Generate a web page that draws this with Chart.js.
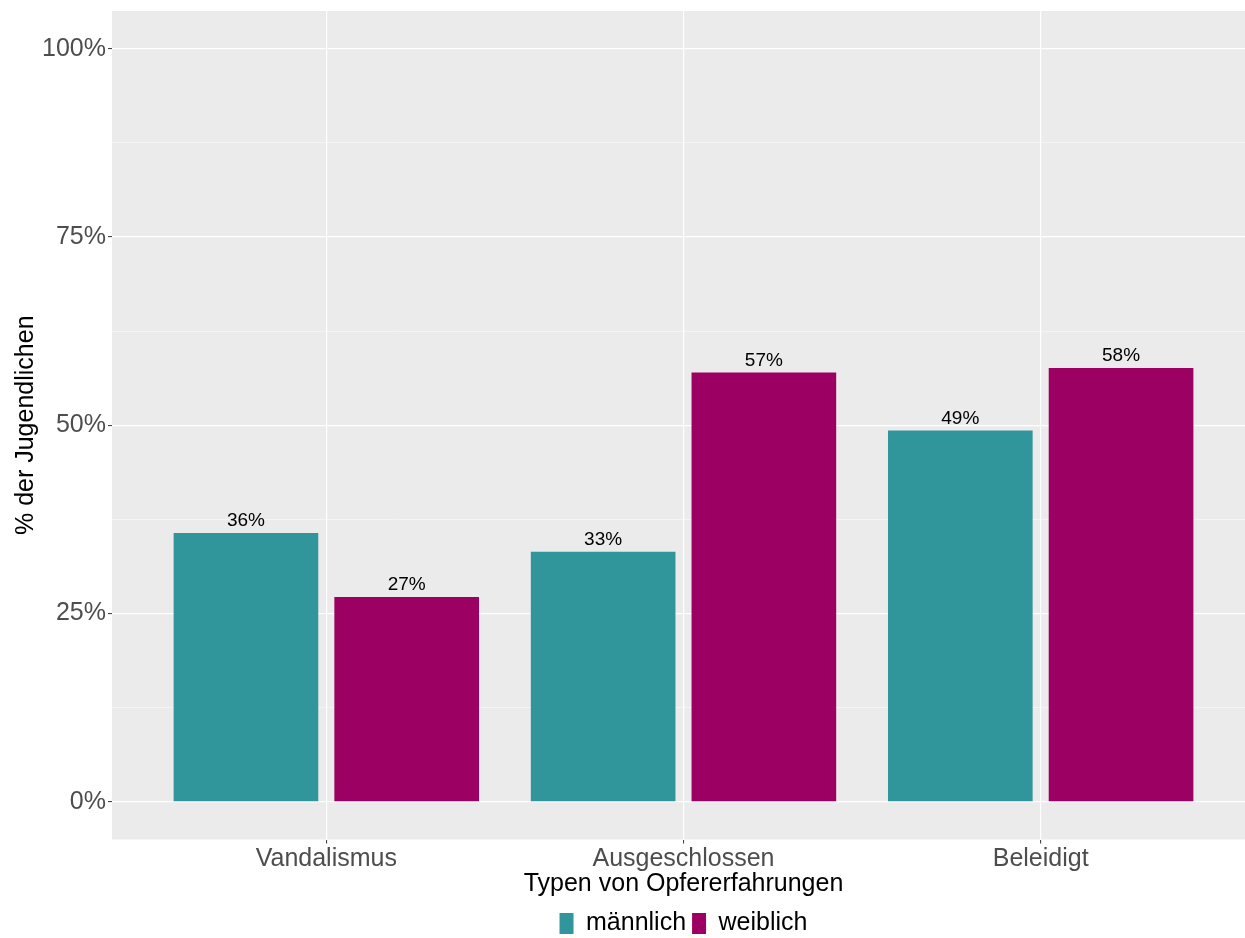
<!DOCTYPE html>
<html>
<head>
<meta charset="utf-8">
<script src="https://cdn.jsdelivr.net/npm/chart.js@4.4.1/dist/chart.umd.min.js"></script>
<style>
  html, body { margin: 0; padding: 0; background: #fff; overflow: hidden; }
  #wrap { position: relative; width: 1256px; height: 946px; }
</style>
</head>
<body>
<div id="wrap"><canvas id="victimChart"></canvas></div>
<script>
// data
const categories = ['Vandalismus', 'Ausgeschlossen', 'Beleidigt'];
const seriesNames = ['männlich', 'weiblich'];
const maleValues = [35.7, 33.2, 49.3];
const femaleValues = [27.2, 57.0, 57.6];
const yTickValues = [0, 12.5, 25, 37.5, 50, 62.5, 75, 87.5, 100];

const FONT = "'Liberation Sans', Arial, sans-serif";

// grey ggplot panel behind the bars
const panelBg = {
    id: 'panelBg',
    beforeDraw(chart) {
        const a = chart.chartArea;
        const c = chart.ctx;
        c.save();
        c.fillStyle = '#EBEBEB';
        c.fillRect(a.left, a.top, a.right - a.left, a.bottom - a.top);
        c.restore();
        // centre legend over the panel like ggplot does
        if (chart.legend) {
            chart.legend.left = a.left;
            chart.legend.right = a.right;
        }
    }
};

// value labels above each bar
const barLabels = {
    id: 'barLabels',
    afterDatasetsDraw(chart) {
        const c = chart.ctx;
        c.save();
        c.font = '19px ' + FONT;
        c.fillStyle = '#000';
        c.textAlign = 'center';
        c.textBaseline = 'alphabetic';
        chart.data.datasets.forEach((ds, i) => {
            chart.getDatasetMeta(i).data.forEach((bar, j) => {
                c.fillText(Math.round(ds.data[j].y) + '%', bar.x, bar.y - 7);
            });
        });
        c.restore();
    }
};

const toPoints = vals => vals.map((v, i) => ({ x: i + 1, y: v }));

new Chart(document.getElementById('victimChart').getContext('2d'), {
    type: 'bar',
    data: {
        datasets: [{
            label: seriesNames[0],
            data: toPoints(maleValues),
            backgroundColor: '#31969B',
            borderWidth: 0
        }, {
            label: seriesNames[1],
            data: toPoints(femaleValues),
            backgroundColor: '#9C0063',
            borderWidth: 0
        }]
    },
    options: {
        responsive: true,
        maintainAspectRatio: false,
        animation: false,
        categoryPercentage: 0.9,
        barPercentage: 0.9,
        layout: { padding: { top: 11, left: 0, right: 1, bottom: 0 } },
        scales: {
            x: {
                type: 'linear',
                min: 0.4,
                max: 3.6,
                offset: false,
                afterBuildTicks: scale => { scale.ticks = categories.map((c, i) => ({ value: i + 1 })); },
                afterFit: scale => { scale.height = 65.5; scale.paddingLeft = 0; scale.paddingRight = 0; },
                border: { display: false },
                grid: { offset: false, color: '#FFFFFF', lineWidth: 1.2, tickLength: 4, tickColor: '#333333', tickWidth: 1 },
                ticks: {
                    padding: 1,
                    maxRotation: 0,
                    autoSkip: false,
                    color: '#4D4D4D',
                    font: { family: FONT, size: 25 },
                    callback: v => categories[v - 1]
                },
                title: {
                    display: true,
                    text: 'Typen von Opfererfahrungen',
                    color: '#000',
                    font: { family: FONT, size: 25 },
                    padding: { top: 0, bottom: 6 }
                }
            },
            y: {
                min: -5,
                max: 105,
                afterBuildTicks: scale => { scale.ticks = yTickValues.map(v => ({ value: v })); },
                afterFit: scale => { scale.width = 112; scale.paddingTop = 0; scale.paddingBottom = 0; },
                border: { display: false },
                grid: {
                    color: ctx => ctx.tick && ctx.tick.value % 25 === 0 ? '#FFFFFF' : 'rgba(255,255,255,0.75)',
                    lineWidth: ctx => ctx.tick && ctx.tick.value % 25 === 0 ? 1.2 : 0.6,
                    tickLength: 4,
                    tickColor: ctx => ctx.tick && ctx.tick.value % 25 === 0 ? '#333333' : 'rgba(0,0,0,0)',
                    tickWidth: 1
                },
                ticks: {
                    padding: 2,
                    autoSkip: false,
                    color: '#4D4D4D',
                    font: { family: FONT, size: 25 },
                    callback: v => v % 25 === 0 ? v + '%' : ''
                },
                title: {
                    display: true,
                    text: '% der Jugendlichen',
                    color: '#000',
                    font: { family: FONT, size: 25 },
                    padding: { top: 11, bottom: 0 }
                }
            }
        },
        plugins: {
            legend: {
                position: 'bottom',
                align: 'center',
                labels: {
                    boxWidth: 14,
                    boxHeight: 21,
                    padding: 6,
                    color: '#000',
                    font: { family: FONT, size: 25 }
                }
            },
            tooltip: { enabled: false },
            title: { display: false }
        }
    },
    plugins: [panelBg, barLabels]
});
</script>
</body>
</html>
